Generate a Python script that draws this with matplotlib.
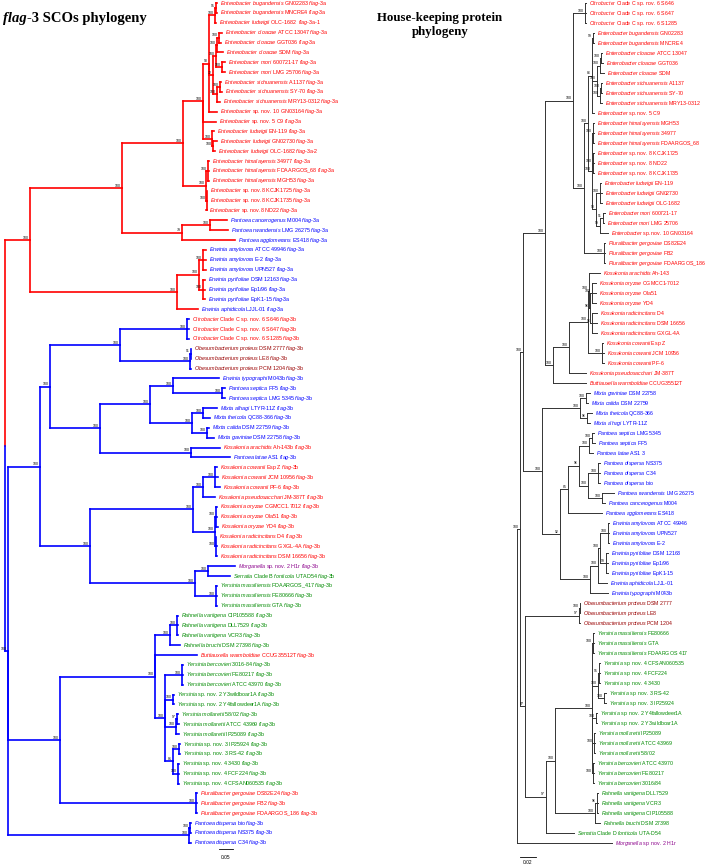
import matplotlib
matplotlib.use("Agg")
import matplotlib.pyplot as plt
from matplotlib.collections import LineCollection
from matplotlib.transforms import offset_copy

plt.rcParams['font.family'] = ['Liberation Sans', 'DejaVu Sans']
plt.rcParams['mathtext.fontset'] = 'custom'
plt.rcParams['mathtext.rm'] = 'Liberation Sans'
plt.rcParams['mathtext.it'] = 'Liberation Sans:italic'

# ---------------- data: left tree (flag-3 SCOs) ----------------
LEFT_NAMES = [
    "Enterobacter bugandensis GN02283 flag-3a", "Enterobacter bugandensis MNCRE4 flag-3a",
    "Enterobacter ludwigii OLC-1682  flag-3a-1", "Enterobacter cloacae ATCC 13047 flag-3a",
    "Enterobacter cloacae GGT036 flag-3a", "Enterobacter cloacae SDM flag-3a",
    "Enterobacter mori 600721-17 flag-3a", "Enterobacter mori LMG 25706 flag-3a",
    "Enterobacter sichuanensis A1137 flag-3a", "Enterobacter sichuanensis SY-70 flag-3a",
    "Enterobacter sichuanensis MRY13-0312 flag-3a", "Enterobacter sp. nov. 10 GN03164 flag-3a",
    "Enterobacter sp. nov. 5 C9 flag-3a", "Enterobacter ludwigii EN-119 flag-3a",
    "Enterobacter ludwigii GN02730 flag-3a", "Enterobacter ludwigii OLC-1682 flag-3a-2",
    "Enterobacter himalayensis 34977 flag-3a", "Enterobacter himalayensis FDAARGOS_68 flag-3a",
    "Enterobacter himalayensis MGH53 flag-3a", "Enterobacter sp. nov.8 KCJK1725 flag-3a",
    "Enterobacter sp. nov.8 KCJK1735 flag-3a", "Enterobacter sp. nov.8 ND22 flag-3a",
    "Pantoea cancerogenus M004 flag-3a", "Pantoea rwandensis LMG 26275 flag-3a",
    "Pantoea agglomerans ES418 flag-3a", "Erwinia amylovora ATCC 49946 flag-3a",
    "Erwinia amylovora E-2 flag-3a", "Erwinia amylovora UPN527 flag-3a",
    "Erwinia pyrifoliae DSM 12163 flag-3a", "Erwinia pyrifoliae Ep1/96 flag-3a",
    "Erwinia pyrifoliae EpK1-15 flag-3a", "Erwinia aphidicola LJJL-01 flag-3a",
    "Citrobacter Clade C sp. nov. 6 S646 flag-3b", "Citrobacter Clade C sp. nov. 6 S647 flag-3b",
    "Citrobacter Clade C sp. nov. 6 S1285 flag-3b", "Obesumbacterium proteus DSM 2777 flag-3b",
    "Obesumbacterium proteus LE8 flag-3b", "Obesumbacterium proteus PCM 1204 flag-3b",
    "Erwinia typographi M043b flag-3b", "Pantoea septica FF5 flag-3b",
    "Pantoea septica LMG 5345 flag-3b", "Mixta alhagi LTYR-11Z flag-3b",
    "Mixta theicola QC88-366 flag-3b", "Mixta calida DSM 22759 flag-3b",
    "Mixta gaviniae DSM 22758 flag-3b", "Kosakonia arachidis Ah-143b flag-3b",
    "Pantoea latae AS1 flag-3b", "Kosakonia cowanii Esp Z flag-3b",
    "Kosakonia cowanii JCM 10956 flag-3b", "Kosakonia cowanii PF-6 flag-3b",
    "Kosakonia pseudosacchari JM-387T flag-3b", "Kosakonia oryzae CGMCC1.7012 flag-3b",
    "Kosakonia oryzae Ola51 flag-3b", "Kosakonia oryzae YD4 flag-3b",
    "Kosakonia radicincitans D4 flag-3b", "Kosakonia radicincitans GXGL-4A flag-3b",
    "Kosakonia radicincitans DSM 16656 flag-3b", "Morganella sp. nov. 2 H1r flag-3b",
    "Serratia Clade B fonticola UTAD54 flag-3b", "Yersinia massiliensis FDAARGOS_417 flag-3b",
    "Yersinia massiliensis FE80666 flag-3b", "Yersinia massiliensis GTA flag-3b",
    "Rahnella variigena CIP105588 flag-3b", "Rahnella variigena DLL7529 flag-3b",
    "Rahnella variigena VCR3 flag-3b", "Rahnella bruchi DSM 27398 flag-3b",
    "Buttiauxella warmboldiae CCUG35512T flag-3b", "Yersinia bercovieri 3016-84 flag-3b",
    "Yersinia bercovieri FE80217 flag-3b", "Yersinia bercovieri ATCC 43970 flag-3b",
    "Yersinia sp. nov. 2 Y3wildboar1A flag-3b", "Yersinia sp. nov. 2 Y4fallowdeer1A flag-3b",
    "Yersinia mollaretii 58/02 flag-3b", "Yersinia mollaretii ATCC 43969 flag-3b",
    "Yersinia mollaretii IP25089 flag-3b", "Yersinia sp. nov. 3 IP25924 flag-3b",
    "Yersinia sp. nov. 3 RS-42 flag-3b", "Yersinia sp. nov. 4 3430 flag-3b",
    "Yersinia sp. nov. 4 FCF224 flag-3b", "Yersinia sp. nov. 4 CFSAN060535 flag-3b",
    "Pluralibacter gergoviae DS82E24 flag-3b", "Pluralibacter gergoviae FB2 flag-3b",
    "Pluralibacter gergoviae FDAARGOS_186 flag-3b", "Pantoea dispersa bio flag-3b",
    "Pantoea dispersa NS375 flag-3b", "Pantoea dispersa C34 flag-3b",
]
LEFT_GROUPS = "r" * 22 + "b" * 10 + "rrr" + "ddd" + "b" * 7 + "rb" + "r" * 10 + "p" + "g" * 8 + "r" + "g" * 13 + "rrr" + "bbb"
LEFT_GENE = ["3a"] * 32 + ["3b"] * 54

# node depths (distance from root) ; internal labels = bootstrap
L_ENT_CLO = "((3:222,4:221)100:219,5:223)100:217"
L_ENT_MOR = "(6:225,7:225)100:222"
L_ENT_SIC = "((8:221,9:222)100:220,10:220)100:217"
L_ENT_B3 = "((0:217,1:217)95:216,2:216)100:215"
L_ENT_CMS = "((" + L_ENT_CLO + "," + L_ENT_MOR + ")100:216," + L_ENT_SIC + ")72:213"
L_ENT_G11 = "(" + L_ENT_B3 + "," + L_ENT_CMS + ",11:217)90:209"
L_ENT_LUD = "(13:214,(14:217,15:215)100:213)100:212"
L_ENT_G1 = "(" + L_ENT_G11 + ",12:216," + L_ENT_LUD + ")100:203"
L_ENT_HS = "((16:209,17:209,18:209)100:208,(19:207,20:207,21:206)100:207)100:206"
L_ENT = "(" + L_ENT_G1 + "," + L_ENT_HS + ")100:183"
L_PAN = "((22:227,23:228)100:210,24:235)79:182"
L_ERW = "(((25:206,26:206,27:206)100:203,(28:205,29:205,30:205)100:203)100:199,31:198)100:177"
L_3A = "((" + L_ENT + "," + L_PAN + ")100:122," + L_ERW + ")100:30"

L_CIT = "(32:189,33:189,34:189)100:187"
L_OBE = "((35:191,36:191)91:190.5,37:191)100:190"
L_TS = "(38:219,(39:225,40:225)100:222)100:173"
L_MIX = "((41:217,42:210)100:203,(43:209,44:214)100:207)100:192"
L_AL = "(45:220,46:230)100:191"
L_KOS = ("(((47:217,48:218,49:220)100:215,50:215)100:203,((51:217,52:217,53:218)100:216,"
         "(54:216,55:217,56:217)100:216)100:215)100:193")
L_MSM = "((57:235,58:230)100:208,(59:217,60:217,61:217)100:216)100:195"
L_RAH = "((62:178,63:178,64:178)100:177,65:180)100:170"
L_BER = "(67:183,68:183,69:183)100:182"
L_Y2 = "(70:174,71:174)100:173"
L_MOL = "((72:178,73:179)97:177,74:179)100:176"
L_Y34 = "((75:180,76:180)100:179,(77:179,78:179,79:179)100:178)81:173"
L_PLU = "(80:197,81:197,82:197)100:196"
L_PDI = "((83:191,84:191)100:190,85:191)100:189"
L_U1 = "((" + L_CIT + "," + L_OBE + ")100:120,((" + L_TS + "," + L_MIX + ")100:150," + L_AL + ")100:100)100:50"
L_U2 = "(" + L_KOS + "," + L_MSM + ")100:90"
L_YER = "(" + L_BER + "," + L_Y2 + "," + L_MOL + "," + L_Y34 + ")100:165"
L_YR = "(" + L_RAH + ",66:197," + L_YER + ")100:155"
L_3B = "((" + L_U1 + "," + L_U2 + ")100:40,(" + L_YR + "," + L_PLU + ")100:60," + L_PDI + ")100:8"
LEFT_TREE = "(" + L_3A + "," + L_3B + "):5;"

# ---------------- data: right tree (house-keeping proteins) ----------------
RIGHT_NAMES = [
    "Citrobacter Clade C sp. nov. 6 S646", "Citrobacter Clade C sp. nov. 6 S647",
    "Citrobacter Clade C sp. nov. 6 S1285", "Enterobacter bugandensis GN02283",
    "Enterobacter bugandensis MNCRE4", "Enterobacter cloacae ATCC 13047",
    "Enterobacter cloacae GGT036", "Enterobacter cloacae SDM",
    "Enterobacter sichuanensis A1137", "Enterobacter sichuanensis SY-70",
    "Enterobacter sichuanensis MRY13-0312", "Enterobacter sp. nov. 5 C9",
    "Enterobacter himalayensis MGH53", "Enterobacter himalayensis 34977",
    "Enterobacter himalayensis FDAARGOS_68", "Enterobacter sp. nov. 8 KCJK1725",
    "Enterobacter sp. nov. 8 ND22", "Enterobacter sp. nov. 8 KCJK1735",
    "Enterobacter ludwigii EN-119", "Enterobacter ludwigii GN02730",
    "Enterobacter ludwigii OLC-1682", "Enterobacter mori 600721-17",
    "Enterobacter mori LMG 25706", "Enterobacter sp. nov. 10 GN03164",
    "Pluralibacter gergoviae DS82E24", "Pluralibacter gergoviae FB2",
    "Pluralibacter gergoviae FDAARGOS_186", "Kosakonia arachidis Ah-143",
    "Kosakonia oryzae CGMCC1-7012", "Kosakonia oryzae Ola51", "Kosakonia oryzae YD4",
    "Kosakonia radicincitans D4", "Kosakonia radicincitans DSM 16656",
    "Kosakonia radicincitans GXGL-4A", "Kosakonia cowanii Esp Z",
    "Kosakonia cowanii JCM 10956", "Kosakonia cowanii PF-6",
    "Kosakonia pseudosacchari JM-387T", "Buttiauxella warmboldiae CCUG35512T",
    "Mixta gaviniae DSM 22758", "Mixta calida DSM 22759", "Mixta theicola QC88-366",
    "Mixta alhagi LYTR-11Z", "Pantoea septica LMG 5345", "Pantoea septica FF5",
    "Pantoea latae AS1 3", "Pantoea dispersa NS375", "Pantoea dispersa C34",
    "Pantoea dispersa bio", "Pantoea rwandensis LMG 26275", "Pantoea cancerogenus M004",
    "Pantoea agglomerans ES418", "Erwinia amylovora ATCC 49946", "Erwinia amylovora UPN527",
    "Erwinia amylovora E-2", "Erwinia pyrifoliae DSM 12163", "Erwinia pyrifoliae Ep1/96",
    "Erwinia pyrifoliae EpK1-15", "Erwinia aphidicola LJJL-01", "Erwinia typographi M043b",
    "Obesumbacterium proteus DSM 2777", "Obesumbacterium proteus LE8",
    "Obesumbacterium proteus PCM 1204", "Yersinia massiliensis FE80666",
    "Yersinia massiliensis GTA", "Yersinia massiliensis FDAARGOS 417",
    "Yersinia sp. nov. 4 CFSAN060535", "Yersinia sp. nov. 4 FCF224", "Yersinia sp. nov. 4 3430",
    "Yersinia sp. nov. 3 RS-42", "Yersinia sp. nov. 3 IP25924",
    "Yersinia sp. nov. 2 Y4fallowdeer1A", "Yersinia sp. nov. 2 Y3wildboar1A",
    "Yersinia mollaretii IP25089", "Yersinia mollaretii ATCC 43969", "Yersinia mollaretii 58/02",
    "Yersinia bercovieri ATCC 43970", "Yersinia bercovieri FE80217", "Yersinia bercovieri 3016/84",
    "Rahnella variigena DLL7529", "Rahnella variigena VCR3", "Rahnella variigena CIP105588",
    "Rahnella bruchi DSM 27398", "Serratia Clade D fonticola UTA-D54",
    "Morganella sp. nov. 2 H1r",
]
RIGHT_GROUPS = "r" * 39 + "b" * 21 + "ddd" + "g" * 21 + "p"

R_CIT = "(0:586,1:586,2:586)100:585"
R_BUG = "(3:594,4:594)99:593"
R_CLO = "((5:602,6:603)100:601,7:604)100:600"
R_SIC = "((8:602,9:602)100:601,10:602)100:600"
R_E1 = "(" + R_BUG + ",(" + R_CLO + "," + R_SIC + ")100:597,11:594)86:592"
R_HIM = "(12:594,13:594,14:594)100:593"
R_SP8 = "(15:594,16:594,17:594)100:593"
R_LUD = "(18:601,19:602,20:602)100:600"
R_MS10 = "((21:605,22:604)91:603,23:608)99:600"
R_E2 = "(" + R_HIM + "," + R_SP8 + ",(" + R_LUD + "," + R_MS10 + ")98:596)100:592"
R_ENT = "(" + R_E1 + "," + R_E2 + ")100:588"
R_PLU = "(24:605,25:605,26:605)100:604"
R_CE = "(" + R_CIT + ",(" + R_ENT + "," + R_PLU + ")100:584)100:573"
R_KO1 = "(27:600,((28:596,29:596,30:596)100:592,(31:597,32:597,33:597)96:592)96:590)100:589"
R_KCOW = "(34:603,35:604,36:604)100:602"
R_KOS = "((" + R_KO1 + "," + R_KCOW + ")100:588,37:586)100:569"
R_CEK = "(" + R_CE + ",(" + R_KOS + ",38:586)100:553)100:545"
R_MIX = "((39:590,40:588)100:586,(41:592,42:590)96:587)100:580"
R_PS = "((43:594,44:595)100:592,45:593)100:589"
R_PD = "((46:600,47:600,48:600)100:598,(49:614,50:605)100:602)100:588"
R_PAN = "((" + R_PS + "," + R_PD + ")96:579,51:602)85:568"
R_ERW = "((((52:609,53:609,54:609)100:608,(55:608,56:608,57:608)99:606)100:600,58:607)100:598,59:608)100:590"
R_MPE = "(" + R_MIX + ",(" + R_PAN + "," + R_ERW + ")92:560)100:542"
R_OBE = "((60:580,61:580)100:579.5,62:580)97:579"
R_YMS = "(63:594,64:594,65:594)100:593"
R_Y43 = "((66:600,67:600,68:600)95:599,(69:606,70:606)100:604)100:598"
R_Y2 = "(71:597,72:597)100:596"
R_MOL = "(73:595,74:595,75:595)100:594"
R_BER = "(76:594,77:594,78:594)100:593"
R_YER = "(" + R_YMS + "," + R_Y43 + "," + R_Y2 + "," + R_MOL + "," + R_BER + ")100:592"
R_RAH = "((79:598,80:598,81:598)96:597,82:600)100:595"
R_OYR = "(" + R_OBE + ",((" + R_YER + "," + R_RAH + ")100:555,83:574)97:546)87:525"
RIGHT_TREE = "(((" + R_CEK + "," + R_MPE + ")100:523," + R_OYR + ")100:520,84:612):517;"

TITLE_LEFT = ("flag", "-3 SCOs phylogeny")
TITLE_RIGHT = "House-keeping protein\nphylogeny"
SCALE_LEFT = "0.05"
SCALE_RIGHT = "0.02"

COLORS = {"r": "#ff0000", "b": "#0000ff", "d": "#990000", "p": "#8b008b", "g": "#008a00"}


def parse_newick(s):
    s = s.replace(" ", "").rstrip(";")
    pos = [0]

    def read(stops):
        st = pos[0]
        while pos[0] < len(s) and s[pos[0]] not in stops:
            pos[0] += 1
        return s[st:pos[0]]

    def node():
        n = {"children": [], "leaf": None, "support": "", "depth": 0.0}
        if s[pos[0]] == "(":
            pos[0] += 1
            while True:
                n["children"].append(node())
                ch = s[pos[0]]
                pos[0] += 1
                if ch == ")":
                    break
            n["support"] = read(":,)")
        else:
            n["leaf"] = int(read(":,)"))
        if pos[0] < len(s) and s[pos[0]] == ":":
            pos[0] += 1
            n["depth"] = float(read(",)"))
        return n

    return node()


def fmt(name):
    out = []
    for i, w in enumerate(name.split(" ")):
        if w.startswith("flag-"):
            out.append(r"$\mathit{flag}$" + w[4:])
        elif w and (i == 0 or (w.isalpha() and w.islower() and w not in ("bio",))):
            out.append(r"$\mathit{" + w + "}$")
        else:
            out.append(w)
    return " ".join(out)


def draw_tree(fig, ax, newick, names, groups, branch_color, lw, fs, bfs):
    root = parse_newick(newick)
    order = []

    def layout(n):
        if n["leaf"] is not None:
            n["y"] = len(order)
            order.append(n)
            n["leaves"] = [n["leaf"]]
        else:
            n["leaves"] = []
            for c in n["children"]:
                layout(c)
                n["leaves"] += c["leaves"]
            n["y"] = (n["children"][0]["y"] + n["children"][-1]["y"]) / 2.0

    layout(root)
    segs, cols = [], []
    lab_tr = offset_copy(ax.transData, fig=fig, x=3, y=0, units="dots")
    boot_tr = offset_copy(ax.transData, fig=fig, x=-1.0, y=0.3, units="dots")

    def walk(n):
        if n["leaf"] is not None:
            i = n["leaf"]
            ax.text(n["depth"], n["y"], fmt(names[i]), transform=lab_tr, ha="left",
                    va="center", fontsize=fs, color=COLORS[groups[i]])
            return
        for c in n["children"]:
            col = branch_color(c["leaves"])
            segs.append([(n["depth"], n["y"]), (n["depth"], c["y"])])
            cols.append(col)
            segs.append([(n["depth"], c["y"]), (c["depth"], c["y"])])
            cols.append(col)
            walk(c)
        if n["support"] and n is not root:
            ax.text(n["depth"], n["y"], n["support"], transform=boot_tr, ha="right",
                    va="bottom", fontsize=bfs, color="#000000")

    walk(root)
    ax.add_collection(LineCollection(segs, colors=cols, linewidths=lw, capstyle="projecting"))
    return root


fig = plt.figure(figsize=(7.09, 8.65), dpi=100)
axL = fig.add_axes([0, 0, 1, 1])
axR = fig.add_axes([0, 0, 1, 1])
for ax in (axL, axR):
    ax.set_axis_off()
    ax.patch.set_alpha(0)
    ax.set_xlim(0, 709)
axL.set_ylim((865 - 3) / 9.88, -3 / 9.88)
axR.set_ylim((865 - 3) / 10.0, -3 / 10.0)

draw_tree(fig, axL, LEFT_TREE, LEFT_NAMES, LEFT_GROUPS,
          lambda lv: "#ff0000" if all(LEFT_GENE[i] == "3a" for i in lv) else "#0000ff",
          1.2, 3.9, 2.5)
draw_tree(fig, axR, RIGHT_TREE, RIGHT_NAMES, RIGHT_GROUPS,
          lambda lv: "#333333", 0.7, 3.8, 2.5)

# scale bars
axL.plot([219, 233], [85.6, 85.6], color="black", lw=0.6)
axL.text(226, 86.5, SCALE_LEFT, ha="center", va="center", fontsize=3.5)
axR.plot([520, 536], [85.4, 85.4], color="black", lw=0.6)
axR.text(528, 86.0, SCALE_RIGHT, ha="center", va="center", fontsize=3.5)

# titles
r = fig.canvas.get_renderer()
t1 = fig.text(3 / 709, 1 - 22 / 865, TITLE_LEFT[0], family="Liberation Serif",
              weight="bold", style="italic", fontsize=10.5, va="baseline")
bb = t1.get_window_extent(r)
fig.text(bb.x1 / fig.bbox.width, 1 - 22 / 865, TITLE_LEFT[1], family="Liberation Serif",
         weight="bold", fontsize=10.5, va="baseline")
fig.text(440 / 709, 1 - 25 / 865, TITLE_RIGHT, family="Liberation Serif", weight="bold",
         fontsize=9.3, ha="center", va="center", linespacing=1.2)

fig.savefig("out.png", dpi=100)
